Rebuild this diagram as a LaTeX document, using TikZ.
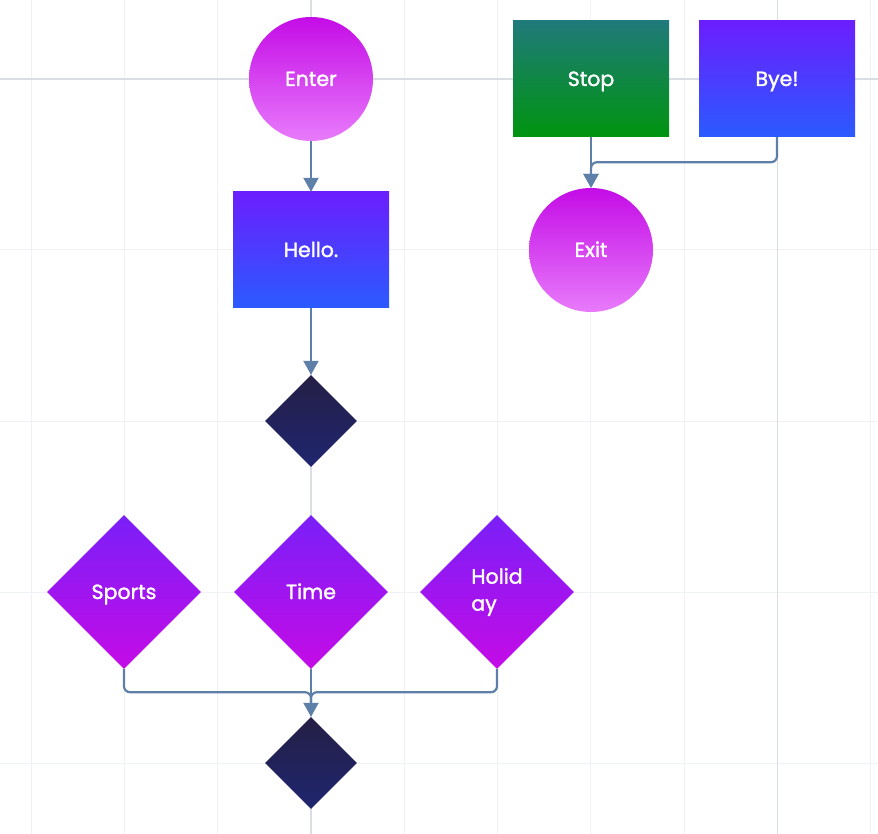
\documentclass[tikz,border=0pt]{standalone}
\usepackage{fontspec}
\setmainfont{Poppins}
\newfontfamily\lblfont{Poppins}[FakeBold=1.6]
\usetikzlibrary{arrows.meta,shapes.geometric}
\definecolor{gridlight}{HTML}{EEF2F6}
\definecolor{gridmajor}{HTML}{D9DEE4}
\definecolor{linkblue}{HTML}{5E80A8}
\definecolor{pinktop}{HTML}{C40CE6}
\definecolor{pinkbot}{HTML}{E87BFB}
\definecolor{bluetop}{HTML}{6B1EFE}
\definecolor{bluebot}{HTML}{2A5BFF}
\definecolor{greentop}{HTML}{1F7A7A}
\definecolor{greenbot}{HTML}{00940F}
\definecolor{violettop}{HTML}{7A1FF8}
\definecolor{violetbot}{HTML}{C50BE6}
\definecolor{navytop}{HTML}{251F45}
\definecolor{navybot}{HTML}{1F2670}

\begin{document}
\begin{tikzpicture}[x=1pt,y=-1pt,
    lbl/.style={text=white,font=\lblfont\fontsize{20.5}{27}\selectfont,inner sep=0pt},
    oneline/.style={text height=14pt,text depth=0pt},
    term/.style={lbl,oneline,circle,minimum size=124pt,top color=pinktop,bottom color=pinkbot},
    bluebox/.style={lbl,oneline,rectangle,minimum width=156pt,minimum height=116pt,
      top color=bluetop,bottom color=bluebot},
    greenbox/.style={lbl,oneline,rectangle,minimum width=156pt,minimum height=116pt,
      top color=greentop,bottom color=greenbot},
    choice/.style={lbl,diamond,minimum size=154pt,top color=violettop,bottom color=violetbot},
    gate/.style={lbl,diamond,minimum size=92pt,top color=navytop,bottom color=navybot},
    flow/.style={draw=linkblue,line width=2.2pt,rounded corners=6pt,
      -{Triangle[width=15pt,length=14pt]}},
    link/.style={draw=linkblue,line width=2.2pt,rounded corners=6pt}]
  \useasboundingbox (0,0) rectangle (878,834);
  \foreach \gx in {0,...,9}
    \draw[gridlight,line width=1pt] ({31+93.3*\gx},0) -- ({31+93.3*\gx},834);
  \foreach \gy in {250,421,592,763}
    \draw[gridlight,line width=1pt] (0,\gy) -- (878,\gy);
  \draw[gridmajor,line width=1.2pt] (0,79) -- (878,79);
  \draw[gridmajor,line width=1.2pt] (311,0) -- (311,834);
  \draw[gridmajor,line width=1.2pt] (777.5,0) -- (777.5,834);

  \node[term]     (enter)   at (311,79)  {Enter};
  \node[bluebox]  (hello)   at (311,250) {Hello.};
  \node[gate]     (split)   at (311,421) {};
  \node[choice,oneline] (sports) at (124,592) {Sports};
  \node[choice,oneline] (time)   at (311,592) {Time};
  \node[choice,align=left] (holiday) at (497,592) {Holid\\ay};
  \node[gate]     (merge)   at (311,763) {};
  \node[greenbox] (stop)    at (591,79)  {Stop};
  \node[bluebox]  (bye)     at (777,79)  {Bye!};
  \node[term]     (exit)    at (591,250) {Exit};
  \coordinate (join) at (311,706);

  \draw[flow] (enter) -- (hello);
  \draw[flow] (hello) -- (split);
  \draw[link] (sports.south) -- ++(0,23) -| (join);
  \draw[link] (holiday.south) -- ++(0,23) -| (join);
  \draw[flow] (time.south) -- (merge.north);
  \draw[flow] (stop.south) -- (exit.north);
  \draw[flow] (bye.south) -- ++(0,25) -| (exit.north);
\end{tikzpicture}
\end{document}
